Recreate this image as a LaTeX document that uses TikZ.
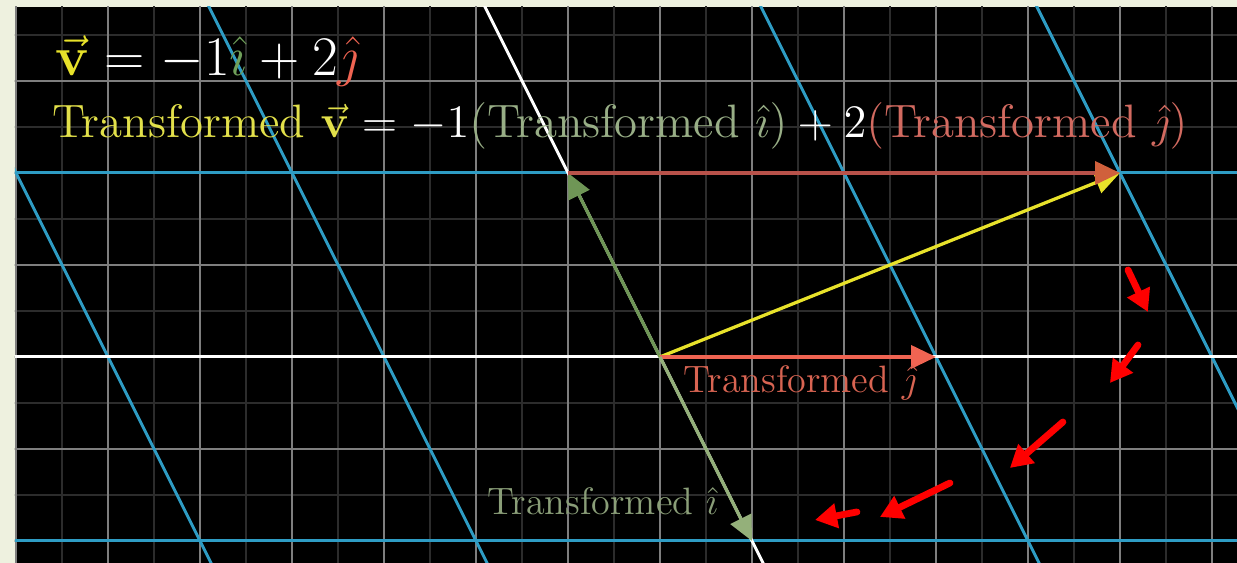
\documentclass[tikz,border=0pt]{standalone}
\usetikzlibrary{arrows.meta}
\definecolor{bgbeige}{HTML}{EEF1DF}
\definecolor{gridmaj}{HTML}{7E7E7E}
\definecolor{gridmin}{HTML}{2C2C2C}
\definecolor{tblue}{HTML}{2E9CC4}
\definecolor{igreen}{HTML}{6F9656}
\definecolor{igreenlow}{HTML}{94B07A}
\definecolor{jred}{HTML}{F06452}
\definecolor{jredtop}{HTML}{B8524A}
\definecolor{jredhead}{HTML}{D0603C}
\definecolor{vyellow}{HTML}{E8E22A}
\definecolor{txtyellow}{HTML}{E2E04A}
\definecolor{txtgreen}{HTML}{98AE86}
\definecolor{txtred}{HTML}{D26A60}
\definecolor{labred}{HTML}{D86452}
\definecolor{labgreen}{HTML}{8A9E78}
\definecolor{eqgreen}{HTML}{6FA05A}
\tikzset{
  vecarrow/.style={line width=1pt,-{Triangle[length=0.27cm,width=0.25cm]}},
  bluelines/.style={tblue,line width=0.9pt},
  axislines/.style={white,line width=0.9pt},
  redmark/.style={red,line width=2.1pt,line cap=round,-{Triangle[length=0.24cm,width=0.26cm]}},
  bigtext/.style={anchor=base west,inner sep=0pt,font=\fontsize{14.5}{17}\selectfont},
  eqtext/.style={anchor=base west,inner sep=0pt,font=\fontsize{17.5}{20}\selectfont},
  labtext/.style={anchor=base west,inner sep=0pt,font=\fontsize{11.8}{14}\selectfont}
}
\begin{document}
\begin{tikzpicture}[x=1cm,y=1cm]
\useasboundingbox (-7.174,-2.239) rectangle (6.272,3.880);
\fill[bgbeige] (-7.174,-2.239) rectangle (6.272,3.880);
\fill[black] (-7.011,-2.239) rectangle (6.272,3.804);
\begin{scope}
  \clip (-7.011,-2.239) rectangle (6.272,3.804);
  \draw[gridmin,line width=0.35pt] (-7.5,-2.5) grid[step=0.5] (6.5,4);
  \draw[gridmaj,line width=0.5pt] (-8,-3) grid[step=1] (7,4);
  \foreach \k in {-6,-3,3,6} \draw[bluelines] ({\k-2},4) -- ({\k+1.5},-3);
  \draw[bluelines] (-8,2) -- (7,2);
  \draw[bluelines] (-8,-2) -- (7,-2);
  \draw[axislines] (-8,0) -- (7,0);
  \draw[axislines] (-2,4) -- (1.5,-3);
\end{scope}
\coordinate (O) at (0,0);
\coordinate (I) at (1,-2);
\coordinate (J) at (3,0);
\coordinate (Im) at (-1,2);
\coordinate (V) at (5,2);
\draw[vecarrow,igreen] (O) -- (Im);
\draw[vecarrow,vyellow] (O) -- (V);
\draw[vecarrow,jredtop,-{Triangle[length=0.27cm,width=0.25cm,color=jredhead]}] (Im) -- (V);
\draw[vecarrow,jred] (O) -- (J);
\draw[vecarrow,igreenlow] (O) -- (I);
% texts
\node[eqtext,text=white] (eq1) at (-6.580,3.055)
  {$ {\color{vyellow}\vec{\mathbf v}} = -1{\color{eqgreen}\hat{\imath}} + 2{\color{jred}\hat{\jmath}} $};
\node[bigtext,text=white] (eq2) at (-6.609,2.380)
  {$ {\color{txtyellow}\mbox{Transformed }\vec{\mathbf v}} = -1{\color{txtgreen}(\mbox{Transformed }\hat{\imath})} + 2{\color{txtred}(\mbox{Transformed }\hat{\jmath})} $};
\node[labtext,text=labred] (lj) at (0.25,-0.391) {Transformed $\hat{\jmath}$};
\node[labtext,text=labgreen] (li) at (-1.880,-1.717) {Transformed $\hat{\imath}$};
% red annotation arrows
\coordinate (a1s) at (5.087,0.946);  \coordinate (a1e) at (5.304,0.489);
\coordinate (a2s) at (5.196,0.130);  \coordinate (a2e) at (4.891,-0.283);
\coordinate (a3s) at (4.380,-0.707); \coordinate (a3e) at (3.804,-1.207);
\coordinate (a4s) at (3.152,-1.370); \coordinate (a4e) at (2.391,-1.739);
\coordinate (a5s) at (2.141,-1.685); \coordinate (a5e) at (1.685,-1.772);
\draw[redmark] (a1s) -- (a1e);
\draw[redmark] (a2s) -- (a2e);
\draw[redmark] (a3s) -- (a3e);
\draw[redmark] (a4s) -- (a4e);
\draw[redmark] (a5s) -- (a5e);
\end{tikzpicture}
\end{document}
